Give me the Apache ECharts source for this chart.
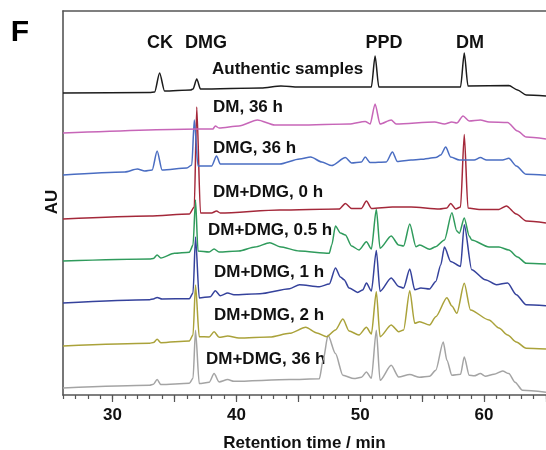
<!DOCTYPE html>
<html>
<head>
<meta charset="utf-8">
<script src="https://cdn.jsdelivr.net/npm/echarts@6/dist/echarts.min.js"></script>
<style>
  html, body { margin: 0; padding: 0; background: #fff; }
  #chart { width: 546px; height: 450px; }
</style>
</head>
<body>
<div id="chart"></div>
<script>
// retention time (min) vs signal above each trace's own baseline (AU, arbitrary)
const authentic = [[26,0],[33,0.5],[33.4,1],[33.8,20],[34.2,2],[36.3,3],[36.5,4],[36.8,14],[37.1,4],[42,5],[43.6,7],[45,6],[50.9,6],[51.2,37],[51.5,6],[58.1,6],[58.4,40],[58.7,7],[62,7.5],[62.7,3],[63.4,-2],[65,-3]]
const dm36 = [[26,0],[37,4],[38.1,4],[38.3,7],[38.6,5],[40.2,7],[41.7,13],[43.1,8],[45.1,8],[49.1,9],[50.4,11.6],[50.8,9],[51.2,29],[51.6,9],[52.5,13],[52.9,9],[56,11],[56.8,9],[57.4,11],[57.8,10],[58.3,17],[58.8,12],[59.7,13],[60.4,11],[61.9,10.6],[62.7,2],[63.4,-4],[65,-6]]
const dmg36 = [[26,0],[31,3],[32,6],[32.6,4],[33.2,5],[33.6,24],[34,5],[36,7],[36.4,10],[36.6,55],[36.9,9],[38,9],[38.4,19],[38.7,11],[43.5,11],[45.1,16],[46,18],[46.9,13],[47.7,9.4],[48.8,17.4],[49.3,12],[50.1,13],[50.4,18],[50.8,12.4],[52.1,13],[52.6,23],[53,13.4],[54.1,15],[54.9,15.7],[56.1,17.4],[56.5,20],[56.9,28],[57.3,18],[58,15],[59.2,15],[59.7,17.4],[60.2,15],[61.5,15],[62,16.7],[62.6,9],[63.4,0.7],[65,-0.3]]
const mix0 = [[26,0],[33,3],[36.2,5],[36.6,12],[36.8,112],[37.1,6],[38,6],[38.4,8],[38.7,6],[43.5,9],[48.3,10],[48.8,15.6],[49.3,10.6],[50.1,10.6],[50.5,18],[50.9,10.6],[52.6,12],[54.1,12],[56.4,10],[57,11],[57.3,15.6],[57.7,10],[58.1,12],[58.4,84.6],[58.7,11],[59.6,9.6],[61.2,9.6],[61.8,13],[62.6,5],[63.4,-2],[65,-4]]
const mix05 = [[26,0],[33,2],[33.3,2.5],[33.6,6],[33.9,3],[35,7.7],[36.2,8.7],[36.5,16],[36.7,61],[36.9,10],[37.8,9],[38.2,12],[38.6,9],[40.2,10],[41.5,14],[42.7,18.3],[43.5,14.3],[45.1,10],[47.5,7.7],[47.7,16],[48,35],[48.4,28],[48.8,26],[49.3,15],[49.9,11],[50.5,19.3],[50.9,12],[51.3,51.7],[51.6,12.7],[52.5,25],[53.1,16],[53.5,15],[54,37],[54.5,14.3],[54.8,16],[55.6,11.7],[56.1,14.3],[56.8,21],[57.4,48.3],[57.8,30],[58,27.7],[58.4,43],[58.8,25],[59,21],[60.4,14],[61.2,14],[62,11],[62.7,4],[63.4,-2.3],[65,-3]]
const mix1 = [[26,0],[33,3.3],[33.3,4],[33.6,5.6],[34,4],[36.2,4.3],[36.5,10],[36.7,66],[37,5],[37.9,6.3],[38.3,12.3],[38.7,7.3],[39.3,10],[39.8,8.3],[41.9,9.3],[44.3,14.3],[45.1,18.3],[46.7,16.3],[47.5,19],[48,35],[48.4,26],[48.7,23.3],[49.1,15],[49.8,10.6],[50.2,13],[50.5,20],[50.9,12],[51.3,52.6],[51.6,11.6],[52.5,25],[53.1,16.6],[53.5,15],[54,34],[54.4,13.3],[54.9,15],[55.6,14],[56.1,21.6],[56.5,38],[56.8,56],[57.3,41.6],[58.1,36.6],[58.4,78.3],[59,33.3],[60.1,23.3],[61,18.3],[61.9,20],[62.6,8.3],[63.4,-1.7],[65,-2.7]]
const mix2 = [[26,0],[33,2.7],[33.3,3.5],[33.6,6.7],[33.9,3.3],[36.2,5],[36.5,11],[36.7,61],[37,9.3],[37.8,9],[38.2,14.3],[38.6,8.7],[39.3,10],[40.2,8],[42.7,9],[44.3,12.7],[45.6,18.7],[46.5,13],[47.3,9.3],[48,16],[48.6,27],[49.1,15],[49.9,11],[50.5,18.7],[50.9,12],[51.3,54.3],[51.6,9.3],[52.5,21],[53.1,14.3],[53.5,16],[54,55.3],[54.4,22.7],[54.8,24.3],[55.6,21],[56.1,29.3],[57,48.3],[57.4,40],[57.8,32.7],[58.4,62.7],[58.9,36],[60.4,26],[61.2,18],[61.9,11],[62.6,4],[63.4,-2.3],[65,-3]]
const mix36 = [[26,0],[33,2.7],[33.3,3.7],[33.6,8.4],[33.9,3.4],[36.2,4.7],[36.5,9.7],[36.7,57.7],[37,4.4],[37.8,5.7],[38.2,14.4],[38.6,6],[39.3,8.4],[39.8,6.7],[44.3,8.4],[46.7,9.2],[47,27.7],[47.4,52.7],[48,34.4],[48.6,12.7],[49.5,9.4],[50.1,10.7],[50.5,16],[50.9,9.7],[51.3,57.7],[51.6,7.7],[52.5,22.7],[53.1,11],[54,13.4],[54.8,10.7],[55.6,11.7],[56.1,17.7],[56.7,46],[57,27.7],[57.4,12.7],[58.1,13.7],[58.4,31],[58.8,12.7],[59.2,12.2],[59.7,14.4],[60.1,11.7],[60.8,13.7],[61.5,17],[62,14.4],[62.5,5.7],[63.1,-2.3],[65,-4.3]]

// stacking: bottom trace first
const traceNames = ['DM+DMG, 36 h', 'DM+DMG, 2 h', 'DM+DMG, 1 h', 'DM+DMG, 0.5 h', 'DM+DMG, 0 h', 'DMG, 36 h', 'DM, 36 h', 'Authentic samples']
const traceData = [mix36, mix2, mix1, mix05, mix0, dmg36, dm36, authentic]
const offsets = [7, 49, 92, 134, 176, 220, 262, 302]
const colors = ['#a4a4a4', '#aaa23a', '#35429c', '#2f9b5c', '#a4283a', '#4a6dc2', '#c766b8', '#1c1c1c']

const peakNames = ['CK', 'DMG', 'PPD', 'DM']
const xLabels = [30, 40, 50, 60]
const xMajor = [30, 35, 40, 45, 50, 55, 60, 65]

const chart = echarts.init(document.getElementById('chart'))

const series = traceData.map((d, i) => ({
  name: traceNames[i],
  type: 'line',
  xAxisIndex: 0,
  data: d.map(p => [p[0], p[1] + offsets[i]]),
  showSymbol: false,
  smooth: 0.25,
  smoothMonotone: 'x',
  lineStyle: { color: colors[i], width: 1.5 },
  silent: true
}))

const font = '"Liberation Sans", Arial, sans-serif'
const bold = (size) => 'bold ' + size + 'px ' + font

// text labels (placed on the picture, like in the figure)
const labelPos = [
  [206, 359], [214, 315], [214, 272], [208, 230], [213, 192], [213, 148], [213, 107], [212, 69]
]
const peakPos = [160, 206, 384, 470]
const graphic = []
traceNames.forEach((n, i) => {
  graphic.push({
    type: 'text', x: labelPos[i][0], y: labelPos[i][1],
    style: { text: n, font: bold(17), fill: '#111', verticalAlign: 'middle' }
  })
})
peakNames.forEach((n, i) => {
  graphic.push({
    type: 'text', x: peakPos[i], y: 43,
    style: { text: n, font: bold(18), fill: '#111', align: 'center', verticalAlign: 'middle' }
  })
})
graphic.push({
  type: 'text', x: 20, y: 33,
  style: { text: 'F', font: bold(30), fill: '#000', align: 'center', verticalAlign: 'middle' }
})
graphic.push({
  type: 'text', x: 52, y: 202, rotation: Math.PI / 2,
  style: { text: 'AU', font: bold(17), fill: '#111', align: 'center', verticalAlign: 'middle' }
})

chart.setOption({
  animation: false,
  grid: { left: 63, right: 0, top: 11, bottom: 55, outerBoundsMode: 'none' },
  xAxis: [
    {
      type: 'value', position: 'bottom', min: 26, max: 65, interval: 1,
      name: 'Retention time / min', nameLocation: 'middle', nameGap: 40,
      nameTextStyle: { fontFamily: font, fontWeight: 'bold', fontSize: 17, color: '#111' },
      axisLine: { lineStyle: { color: '#555', width: 1.6 } },
      axisTick: { length: 4, lineStyle: { color: '#555', width: 1.2 } },
      axisLabel: {
        customValues: xLabels, margin: 12,
        fontFamily: font, fontWeight: 'bold', fontSize: 17, color: '#111'
      },
      splitLine: { show: false }
    },
    {
      type: 'value', position: 'bottom', min: 26, max: 65,
      axisLine: { show: false },
      axisTick: { customValues: xMajor, length: 7, lineStyle: { color: '#555', width: 1.2 } },
      axisLabel: { show: false },
      splitLine: { show: false }
    },
    {
      type: 'value', position: 'top', min: 26, max: 65,
      axisLine: { lineStyle: { color: '#555', width: 1.6 } },
      axisTick: { show: false },
      axisLabel: { show: false },
      splitLine: { show: false }
    }
  ],
  yAxis: {
    type: 'value', min: 0, max: 384,
    axisLine: { show: true, lineStyle: { color: '#555', width: 1.6 } },
    axisTick: { show: false },
    axisLabel: { show: false },
    splitLine: { show: false }
  },
  graphic: graphic,
  series: series
})
</script>
</body>
</html>
